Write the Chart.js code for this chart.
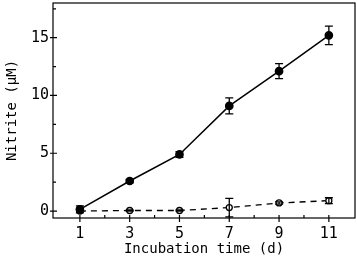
<!DOCTYPE html>
<html>
<head>
<meta charset="utf-8">
<script src="https://cdn.jsdelivr.net/npm/chart.js@4/dist/chart.umd.min.js"></script>
<style>
  html, body { margin: 0; padding: 0; background: #fff; }
  #wrap { width: 357px; height: 260px; }
</style>
</head>
<body>
<div id="wrap"><canvas id="c"></canvas></div>
<script>
// Nitrite over incubation time.
const days = [1, 3, 5, 7, 9, 11];
const nitriteFilled = [0.15, 2.6, 4.9, 9.1, 12.1, 15.2];
const errFilled = [0.3, 0.15, 0.25, 0.7, 0.65, 0.8];
const nitriteOpen = [0.0, 0.05, 0.05, 0.3, 0.7, 0.9];
const errOpen = [0.1, 0.05, 0.05, 0.8, 0.1, 0.25];
const xTicks = [1, 3, 5, 7, 9, 11];
const xMinor = [2, 4, 6, 8, 10];
const yTicks = [0, 5, 10, 15];
const yMinor = [2.5, 7.5, 12.5, 17.5];

const FONT = "'DejaVu Sans Mono', monospace";
const pts = (ys) => days.map((d, i) => ({ x: d, y: ys[i] }));

// frame, ticks and error bars
const decor = {
  id: "decor",
  afterDatasetsDraw(chart) {
    const { ctx, chartArea: a, scales: { x, y } } = chart;
    ctx.save();
    ctx.strokeStyle = "#000";
    ctx.lineWidth = 1.2;
    ctx.strokeRect(a.left, a.top, a.right - a.left, a.bottom - a.top);

    ctx.beginPath();
    xTicks.forEach((v) => {
      const px = x.getPixelForValue(v);
      ctx.moveTo(px, a.bottom + 4);
      ctx.lineTo(px, a.bottom - 3);
    });
    xMinor.forEach((v) => {
      const px = x.getPixelForValue(v);
      ctx.moveTo(px, a.bottom);
      ctx.lineTo(px, a.bottom - 3);
    });
    yTicks.forEach((v) => {
      const py = y.getPixelForValue(v);
      ctx.moveTo(a.left - 3, py);
      ctx.lineTo(a.left + 4, py);
    });
    yMinor.forEach((v) => {
      const py = y.getPixelForValue(v);
      ctx.moveTo(a.left, py);
      ctx.lineTo(a.left + 3, py);
    });
    ctx.stroke();

    // error bars
    const bars = (ys, errs) => {
      days.forEach((d, i) => {
        const px = x.getPixelForValue(d);
        const hi = y.getPixelForValue(ys[i] + errs[i]);
        const lo = y.getPixelForValue(ys[i] - errs[i]);
        ctx.moveTo(px, hi); ctx.lineTo(px, lo);
        ctx.moveTo(px - 4, hi); ctx.lineTo(px + 4, hi);
        ctx.moveTo(px - 4, lo); ctx.lineTo(px + 4, lo);
      });
    };
    ctx.beginPath();
    ctx.lineWidth = 1.3;
    bars(nitriteFilled, errFilled);
    bars(nitriteOpen, errOpen);
    ctx.stroke();
    ctx.restore();
  }
};

new Chart(document.getElementById("c"), {
  type: "scatter",
  data: {
    datasets: [
      {
        data: pts(nitriteFilled),
        showLine: true,
        borderColor: "#000",
        borderWidth: 1.5,
        pointRadius: 3.6,
        pointBackgroundColor: "#000",
        pointBorderColor: "#000",
      },
      {
        data: pts(nitriteOpen),
        showLine: true,
        borderColor: "#000",
        borderWidth: 1.3,
        borderDash: [6, 5],
        pointRadius: 3,
        pointBorderWidth: 1.3,
        pointBackgroundColor: "#fff",
        pointBorderColor: "#000",
      },
    ],
  },
  options: {
    responsive: true,
    maintainAspectRatio: false,
    animation: false,
    layout: { autoPadding: false, padding: { top: 3, right: 2, left: 0, bottom: 0 } },
    plugins: { legend: { display: false }, tooltip: { enabled: false } },
    scales: {
      x: {
        type: "linear",
        min: -0.08,
        max: 12.05,
        afterBuildTicks: (s) => { s.ticks = xTicks.map((v) => ({ value: v })); },
        afterFit: (s) => { s.height = 42; s.paddingLeft = 0; s.paddingRight = 0; },
        grid: { display: false, drawTicks: false },
        border: { display: false },
        ticks: { color: "#000", padding: 7, font: { family: FONT, size: 15 } },
        title: {
          display: true,
          text: "Incubation time (d)",
          color: "#000",
          padding: { top: 0, bottom: 2 },
          font: { family: FONT, size: 14 },
        },
      },
      y: {
        min: -0.6,
        max: 18,
        afterBuildTicks: (s) => { s.ticks = yTicks.map((v) => ({ value: v })); },
        afterFit: (s) => { s.width = 53; s.paddingTop = 0; s.paddingBottom = 0; },
        grid: { display: false, drawTicks: false },
        border: { display: false },
        ticks: { color: "#000", padding: 4, font: { family: FONT, size: 15 } },
        title: {
          display: true,
          text: "Nitrite (μM)",
          color: "#000",
          padding: { top: 4, bottom: 0 },
          font: { family: FONT, size: 14 },
        },
      },
    },
  },
  plugins: [decor],
});
</script>
</body>
</html>
